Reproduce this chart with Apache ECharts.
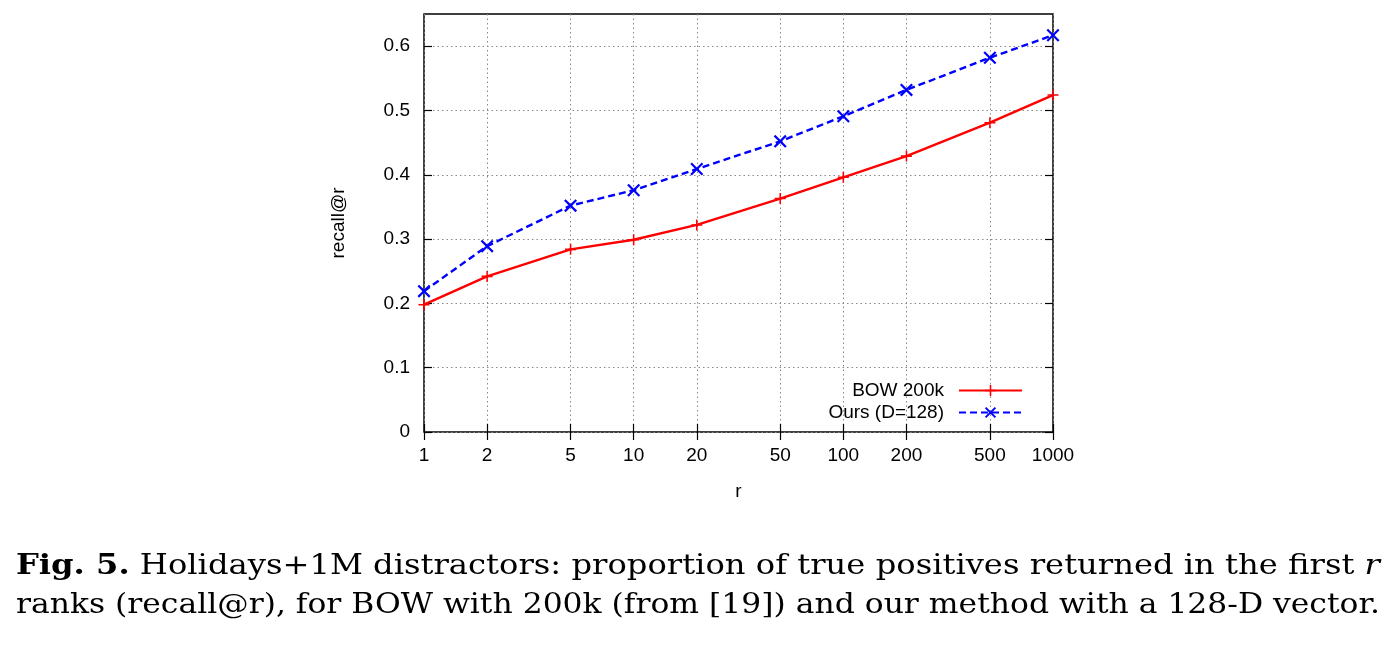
<!DOCTYPE html>
<html>
<head>
<meta charset="utf-8">
<script src="https://cdn.jsdelivr.net/npm/echarts@6/dist/echarts.min.js"></script>
<style>
html,body{margin:0;padding:0;background:#fff;}
#c{width:1394px;height:648px;}
</style>
</head>
<body>
<div id="c"></div>
<script>
const ranks = [1, 2, 5, 10, 20, 50, 100, 200, 500, 1000];
const bowValues = [0.198, 0.242, 0.284, 0.299, 0.322, 0.363, 0.396, 0.429, 0.481, 0.524];
const oursValues = [0.219, 0.289, 0.352, 0.376, 0.409, 0.452, 0.491, 0.532, 0.582, 0.617];
const xTickValues = [1, 2, 5, 10, 20, 50, 100, 200, 500, 1000];
const yTickValues = [0, 0.1, 0.2, 0.3, 0.4, 0.5, 0.6];
const seriesNames = ['BOW 200k', 'Ours (D=128)'];
const yAxisTitle = 'recall@r';
const xAxisTitle = 'r';
const captionLine1 = ['Fig. 5.', ' Holidays+1M distractors: proportion of true positives returned in the first ', 'r'];
const captionLine2 = 'ranks (recall@r), for BOW with 200k (from [19]) and our method with a 128-D vector.';

const FONT = 'Liberation Sans';
const SERIF = 'DejaVu Serif';
const CAP_SIZE = 28;
const plusPath = 'path://M4.3,0H5.7V4.3H10V5.7H5.7V10H4.3V5.7H0V4.3H4.3Z';
const crossPath = 'path://M1.2,0L5,3.8L8.8,0L10,1.2L6.2,5L10,8.8L8.8,10L5,6.2L1.2,10L0,8.8L3.8,5L0,1.2Z';

// measure caption widths to stretch each line across the text block (justified look)
const mctx = document.createElement('canvas').getContext('2d');
function w(text, font) { mctx.font = font; return mctx.measureText(text).width; }
const normalFont = CAP_SIZE + 'px "' + SERIF + '"';
const boldFont = 'bold ' + CAP_SIZE + 'px "' + SERIF + '"';
const italFont = 'italic ' + CAP_SIZE + 'px "' + SERIF + '"';
const capLeft = 16, capRight = 1380;
const line1W = w(captionLine1[0], boldFont) + w(captionLine1[1], normalFont) + w(captionLine1[2], italFont);
const line2W = w(captionLine2, normalFont);
const scale1 = (capRight - capLeft) / line1W;
const scale2 = (capRight - capLeft) / line2W;

const chart = echarts.init(document.getElementById('c'), null, {renderer: 'canvas'});
const pairs = (vals) => ranks.map((r, i) => [r, vals[i]]);

const xCommon = {
  type: 'log', logBase: 10, min: 1, max: 1000,
  axisLine: {show: false},
  axisTick: {show: true, inside: true, length: 8, customValues: xTickValues, lineStyle: {color: '#000', width: 1.2}},
  splitLine: {show: false},
  minorTick: {show: false}
};
const yCommon = {
  type: 'value', min: 0, max: 0.65,
  axisLine: {show: false},
  axisTick: {show: true, inside: true, length: 8, customValues: yTickValues, lineStyle: {color: '#000', width: 1.2}},
  splitLine: {show: false}
};

chart.setOption({
  backgroundColor: '#fff',
  animation: false,
  textStyle: {fontFamily: FONT},
  grid: {left: 424, right: 341, top: 14, bottom: 216, show: true, borderColor: '#000', borderWidth: 1.5, backgroundColor: 'transparent'},
  xAxis: [
    Object.assign({}, xCommon, {
      position: 'bottom',
      name: xAxisTitle, nameLocation: 'middle', nameGap: 50,
      nameTextStyle: {fontSize: 19, color: '#000', fontFamily: FONT},
      splitLine: {show: true, lineStyle: {color: '#888', type: [1.5, 3], width: 1}},
      axisLabel: {show: true, customValues: xTickValues, fontSize: 19, color: '#000', margin: 14, fontFamily: FONT,
        formatter: (v) => String(Math.round(v))}
    }),
    Object.assign({}, xCommon, {position: 'top', axisLabel: {show: false}})
  ],
  yAxis: [
    Object.assign({}, yCommon, {
      position: 'left',
      name: yAxisTitle, nameLocation: 'middle', nameGap: 76, nameRotate: 90,
      nameTextStyle: {fontSize: 19, color: '#000', fontFamily: FONT},
      splitLine: {show: true, lineStyle: {color: '#888', type: [1.5, 3], width: 1}},
      axisLabel: {show: true, customValues: yTickValues, fontSize: 19, color: '#000', margin: 14, fontFamily: FONT,
        formatter: (v) => (Math.round(v * 10) / 10).toString()}
    }),
    Object.assign({}, yCommon, {position: 'right', axisLabel: {show: false}})
  ],
  legend: [
    {data: [seriesNames[0]], right: 371, top: 381, padding: 0, align: 'right', itemWidth: 63, itemHeight: 14, itemGap: 0,
      textStyle: {fontSize: 19, color: '#000', fontFamily: FONT, padding: [0, 10, 0, 0]}, selectedMode: false},
    {data: [seriesNames[1]], right: 371, top: 403, padding: 0, align: 'right', itemWidth: 63, itemHeight: 14, itemGap: 0,
      textStyle: {fontSize: 19, color: '#000', fontFamily: FONT, padding: [0, 10, 0, 0]}, selectedMode: false}
  ],
  series: [
    {
      name: seriesNames[0], type: 'line', data: pairs(bowValues),
      symbol: plusPath, symbolSize: 11, showAllSymbol: true,
      lineStyle: {color: '#ff0000', width: 2.4, type: 'solid'},
      itemStyle: {color: '#ff0000', borderWidth: 0},
      z: 3
    },
    {
      name: seriesNames[1], type: 'line', data: pairs(oursValues),
      symbol: crossPath, symbolSize: 13, showAllSymbol: true,
      lineStyle: {color: '#0000ff', width: 2.4, type: [7, 4]},
      itemStyle: {color: '#0000ff', borderWidth: 0},
      z: 4
    }
  ],
  graphic: [
    {
      type: 'text', x: capLeft, y: 581, scaleX: scale1, scaleY: 1,
      style: {
        x: 0, y: 0, verticalAlign: 'bottom',
        text: '{b|' + captionLine1[0] + '}{n|' + captionLine1[1] + '}{i|' + captionLine1[2] + '}',
        rich: {
          b: {fontFamily: SERIF, fontWeight: 'bold', fontSize: CAP_SIZE, fill: '#000'},
          n: {fontFamily: SERIF, fontSize: CAP_SIZE, fill: '#000'},
          i: {fontFamily: SERIF, fontStyle: 'italic', fontSize: CAP_SIZE, fill: '#000'}
        }
      }
    },
    {
      type: 'text', x: capLeft, y: 620, scaleX: scale2, scaleY: 1,
      style: {x: 0, y: 0, verticalAlign: 'bottom', text: captionLine2, fontFamily: SERIF, fontSize: CAP_SIZE, fill: '#000'}
    }
  ]
});
</script>
</body>
</html>
